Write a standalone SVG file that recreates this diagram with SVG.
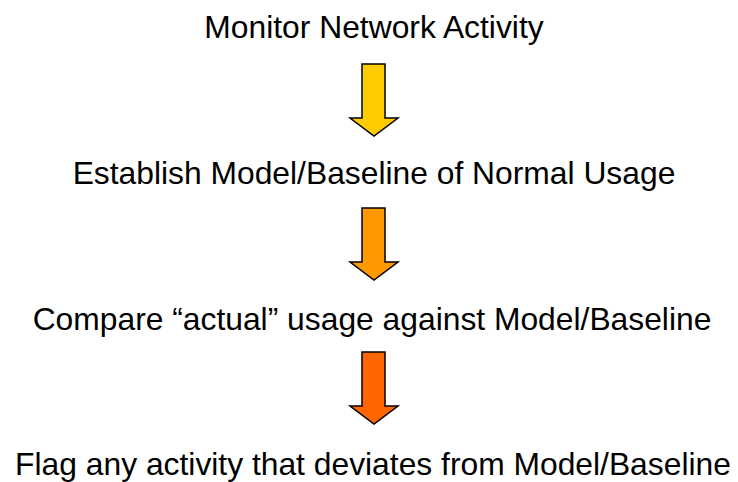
<svg xmlns="http://www.w3.org/2000/svg" width="738" height="482" viewBox="0 0 738 482">
<style>
.t{font-family:"Liberation Sans",Arial,sans-serif;font-size:31.8px;fill:#000;text-anchor:middle}
.a{stroke:#000;stroke-width:1.5;stroke-linejoin:miter}
</style>
<defs>
<path id="arr" d="M362,0 H385 V54 H398 L374,72 L350,54 H362 Z"/>
</defs>
<rect width="738" height="482" fill="#fff"/>
<g id="step1"><text class="t" x="374" y="38">Monitor Network Activity</text></g>
<g id="step2"><text class="t" x="374" y="184">Establish Model/Baseline of Normal Usage</text></g>
<g id="step3"><text class="t" x="372" y="330">Compare “actual” usage against Model/Baseline</text></g>
<g id="step4"><text class="t" x="373" y="475">Flag any activity that deviates from Model/Baseline</text></g>
<g id="connectors">
<use href="#arr" class="a" fill="#FFCC00" transform="translate(0,64)"/>
<use href="#arr" class="a" fill="#FF9900" transform="translate(0,208)"/>
<use href="#arr" class="a" fill="#FF6600" transform="translate(0,352)"/>
</g>
</svg>
